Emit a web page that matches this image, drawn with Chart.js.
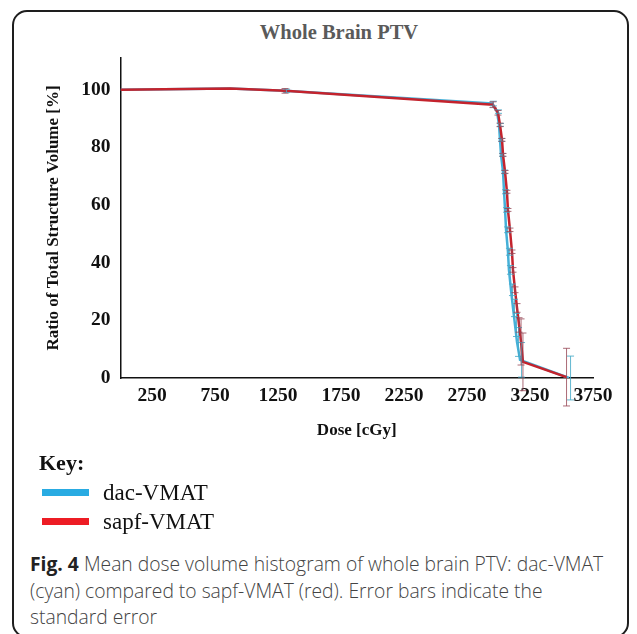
<!DOCTYPE html>
<html>
<head>
<meta charset="utf-8">
<script src="https://cdn.jsdelivr.net/npm/chart.js@4.4.1/dist/chart.umd.min.js"></script>
<style>
  html, body { margin: 0; padding: 0; background: #fff; }
  #wrap { position: relative; width: 637px; height: 634px; overflow: hidden; }
  #frame {
    position: absolute; left: 12px; top: 10px; width: 617px; height: 628px;
    border: 2px solid #1e1e1e; border-radius: 15px; box-sizing: border-box;
  }
  #c { position: absolute; left: 0; top: 0; }
  .title {
    position: absolute; left: 0; width: 678px; top: 21px; text-align: center;
    font: bold 20.5px "Liberation Serif", serif; color: #5a5a5a;
  }
  .key { position: absolute; left: 39px; top: 448px; font-family: "Liberation Serif", serif; color: #111; }
  .key h4 { margin: 0; font-size: 22px; font-weight: bold; line-height: 30px; }
  .key .row { position: relative; height: 29px; line-height: 29px; font-size: 23px; padding-left: 64px; }
  .key .row span { position: absolute; left: 3px; top: 11px; width: 47px; height: 7px; }
  .caption {
    position: absolute; left: 30px; top: 551px; width: 600px;
    font: 300 19.3px "Open Sans", sans-serif; color: #444; line-height: 26.5px; white-space: nowrap;
  }
  .caption b { color: #222; font-weight: 700; }
</style>
</head>
<body>
<div id="wrap">
  <div id="frame"></div>
  <div class="title">Whole Brain PTV</div>
  <canvas id="c" width="637" height="460"></canvas>
  <div class="key">
    <h4>Key:</h4>
    <div class="row"><span style="background:#29abe2"></span>dac-VMAT</div>
    <div class="row"><span style="background:#ed1c24"></span>sapf-VMAT</div>
  </div>
  <div class="caption"><b>Fig. 4</b> Mean dose volume histogram of whole brain PTV: dac-VMAT<br>(cyan) compared to sapf-VMAT (red). Error bars indicate the<br>standard error</div>
</div>
<script>
// values
const xTicks = [250, 750, 1250, 1750, 2250, 2750, 3250, 3750];
const yTicks = [0, 20, 40, 60, 80, 100];

const dacDose = [0, 870, 1306, 2948, 2988, 3004, 3012, 3020, 3036, 3044, 3052, 3060, 3075, 3083, 3099, 3115, 3131, 3147, 3171, 3560];
const dacVol  = [100, 100.4, 99.6, 95.2, 92.4, 87.8, 82.6, 77.4, 71.5, 64.6, 58.3, 51.4, 43.8, 37.5, 30.6, 24.3, 18.4, 12.5, 6.3, 0];
const dacErr  = [0, 0, 0.6, 0.8, 0.6, 0.5, 0.5, 0.5, 0.6, 0.7, 0.8, 1.0, 1.2, 1.5, 2.0, 3.0, 4.0, 5.0, 6.0, 7.6];

const sapfDose = [0, 870, 1306, 2956, 2996, 3012, 3028, 3036, 3052, 3067, 3075, 3091, 3107, 3115, 3131, 3147, 3163, 3179, 3194, 3540];
const sapfVol  = [100, 100.4, 99.6, 94.8, 92.0, 87.8, 82.6, 77.4, 71.5, 64.6, 58.3, 51.4, 43.8, 37.5, 30.6, 24.3, 18.4, 12.5, 5.6, 0.3];
const sapfErr  = [0, 0, 0.8, 1.0, 0.8, 0.6, 0.5, 0.5, 0.5, 0.5, 0.5, 0.6, 0.6, 0.8, 1.0, 1.5, 2.5, 8, 10, 10];

const toPoints = (xs, ys) => xs.map((x, i) => ({ x: x, y: ys[i] }));

// vertical error bars, drawn through the chart scales
const errorBars = {
  id: 'errorBars',
  afterDatasetsDraw(chart) {
    const ctx = chart.ctx;
    const xs = chart.scales.x, ys = chart.scales.y;
    chart.data.datasets.forEach((ds) => {
      const errs = ds.errors;
      ctx.save();
      ctx.strokeStyle = ds.barColor;
      ctx.lineWidth = 1;
      ds.data.forEach((p, i) => {
        const e = errs[i];
        if (!e) return;
        const px = xs.getPixelForValue(p.x) + ds.barShift;
        const top = ys.getPixelForValue(p.y + e);
        const bot = ys.getPixelForValue(p.y - e);
        ctx.beginPath();
        ctx.moveTo(px, top); ctx.lineTo(px, bot);
        ctx.moveTo(px - 3.5, top); ctx.lineTo(px + 3.5, top);
        ctx.moveTo(px - 3.5, bot); ctx.lineTo(px + 3.5, bot);
        ctx.stroke();
      });
      ctx.restore();
    });
  }
};

const serif = '"Liberation Serif", "Times New Roman", serif';

new Chart(document.getElementById('c'), {
  type: 'line',
  data: {
    datasets: [
      {
        label: 'dac-VMAT',
        data: toPoints(dacDose, dacVol),
        errors: dacErr,
        barColor: 'rgba(70,170,200,0.85)',
        barShift: 1.5,
        borderColor: '#45b0d8',
        borderWidth: 2.5,
        pointRadius: 0,
        tension: 0,
        order: 2
      },
      {
        label: 'sapf-VMAT',
        data: toPoints(sapfDose, sapfVol),
        errors: sapfErr,
        barColor: 'rgba(150,70,85,0.8)',
        barShift: 0,
        borderColor: '#c4232d',
        borderWidth: 2.5,
        pointRadius: 0,
        tension: 0,
        order: 1
      }
    ]
  },
  options: {
    responsive: false,
    animation: false,
    layout: { padding: { top: 58, right: 44, left: 0, bottom: 0 } },
    plugins: {
      legend: { display: false },
      tooltip: { enabled: false }
    },
    scales: {
      x: {
        type: 'linear',
        min: 0,
        max: 3750,
        grid: { display: false, drawTicks: false },
        border: { display: true, color: '#111', width: 1.5 },
        afterBuildTicks: (axis) => { axis.ticks = xTicks.map(v => ({ value: v })); },
        afterFit: (axis) => { axis.height = 82; },
        ticks: {
          autoSkip: false,
          maxRotation: 0,
          padding: 6,
          color: '#111',
          font: { family: serif, size: 19.5, weight: 'bold' },
          callback: (v) => String(v)
        },
        title: {
          display: true,
          text: 'Dose [cGy]',
          color: '#111',
          padding: { top: 0, bottom: 19 },
          font: { family: serif, size: 17, weight: 'bold' }
        }
      },
      y: {
        min: 0,
        max: 111,
        grid: { display: false, drawTicks: false },
        border: { display: true, color: '#111', width: 1.5 },
        afterBuildTicks: (axis) => { axis.ticks = yTicks.map(v => ({ value: v })); },
        afterFit: (axis) => { axis.width = 120.5; },
        ticks: {
          padding: 10,
          color: '#111',
          font: { family: serif, size: 19.5, weight: 'bold' },
          callback: (v) => String(v)
        },
        title: {
          display: true,
          text: 'Ratio of Total Structure Volume [%]',
          color: '#111',
          padding: { top: 43, bottom: 0 },
          font: { family: serif, size: 17, weight: 'bold' }
        }
      }
    }
  },
  plugins: [errorBars]
});
</script>
</body>
</html>
